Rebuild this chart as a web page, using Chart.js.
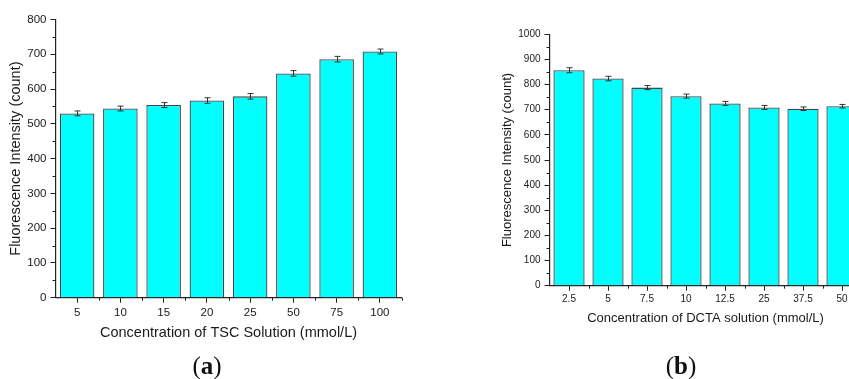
<!DOCTYPE html>
<html>
<head>
<meta charset="utf-8">
<script src="https://cdn.jsdelivr.net/npm/chart.js@4.4.1/dist/chart.umd.min.js"></script>
<style>
  html, body { margin: 0; padding: 0; background: #fff; overflow: hidden; }
  #wrap { position: relative; width: 849px; height: 379px; overflow: hidden; }
  canvas { position: absolute; top: 0; }
  .cap { position: absolute; top: 352px; width: 60px; text-align: center;
         font-family: "Liberation Serif", "Times New Roman", serif; font-size: 25px;
         line-height: 28px; color: #111; }
  .cap b { font-weight: bold; }
</style>
</head>
<body>
<div id="wrap">
  <canvas id="chartA" width="430" height="379" style="left:0"></canvas>
  <canvas id="chartB" width="400" height="379" style="left:470px"></canvas>
  <div class="cap" style="left:177px">(<b>a</b>)</div>
  <div class="cap" style="left:651px">(<b>b</b>)</div>
</div>
<script>
// (a) TSC concentration series
const tscLabels = ['5', '10', '15', '20', '25', '50', '75', '100'];
const tscValues = [530, 544, 554, 567, 579, 645, 686, 708];
const tscErrors = [7, 7, 7, 8, 8, 8, 8, 7];

// (b) DCTA concentration series
const dctaLabels = ['2.5', '5', '7.5', '10', '12.5', '25', '37.5', '50'];
const dctaValues = [857, 824, 788, 754, 725, 709, 704, 714];
const dctaErrors = [10, 9, 8, 8, 8, 8, 7, 7];

const yTitle = 'Fluorescence Intensity (count)';
const axisColor = '#222';

Chart.defaults.font.family = '"Liberation Sans", Arial, sans-serif';
Chart.defaults.color = '#1a1a1a';

// whiskers drawn from value +/- error on the y scale
const errorBars = {
    id: 'errorBars',
    afterDatasetsDraw(chart, args, opts) {
        const { ctx, scales: { y } } = chart;
        const meta = chart.getDatasetMeta(0);
        const data = chart.data.datasets[0].data;
        ctx.save();
        ctx.strokeStyle = '#333';
        ctx.lineWidth = 1;
        meta.data.forEach((bar, i) => {
            const hi = y.getPixelForValue(data[i] + opts.errors[i]);
            const lo = y.getPixelForValue(data[i] - opts.errors[i]);
            const cx = Math.round(bar.x) + 0.5;
            ctx.beginPath();
            ctx.moveTo(cx, hi); ctx.lineTo(cx, lo);
            ctx.moveTo(cx - 3, hi); ctx.lineTo(cx + 3, hi);
            ctx.moveTo(cx - 3, lo); ctx.lineTo(cx + 3, lo);
            ctx.stroke();
        });
        ctx.restore();
    }
};

// short minor ticks: halfway between y steps, and on category boundaries
const minorTicks = {
    id: 'minorTicks',
    afterDraw(chart, args, opts) {
        const { ctx, scales: { x, y } } = chart;
        ctx.save();
        ctx.strokeStyle = axisColor;
        ctx.lineWidth = 1;
        ctx.beginPath();
        for (let v = opts.step / 2; v < y.max; v += opts.step) {
            const py = Math.round(y.getPixelForValue(v)) + 0.5;
            ctx.moveTo(x.left, py); ctx.lineTo(x.left - 3, py);
        }
        const n = chart.data.labels.length;
        const w = (x.right - x.left) / n;
        for (let i = 1; i <= n; i++) {
            const px = Math.round(x.left + i * w) + 0.5;
            ctx.moveTo(px, y.bottom); ctx.lineTo(px, y.bottom + 3);
        }
        ctx.stroke();
        ctx.restore();
    }
};

function makeChart(id, labels, values, errors, xTitle, g) {
    return new Chart(document.getElementById(id), {
        type: 'bar',
        data: {
            labels: labels,
            datasets: [{
                data: values,
                backgroundColor: '#00ffff',
                borderColor: '#454545',
                borderWidth: 1.3,
                barPercentage: 0.8,
                categoryPercentage: 1.0
            }]
        },
        plugins: [errorBars, minorTicks],
        options: {
            responsive: false,
            animation: false,
            devicePixelRatio: 1,
            layout: { padding: { top: g.top, right: g.right, left: 0, bottom: 0 } },
            plugins: {
                legend: { display: false },
                tooltip: { enabled: false },
                errorBars: { errors: errors },
                minorTicks: { step: g.step }
            },
            scales: {
                x: {
                    offset: true,
                    grid: { offset: false, drawOnChartArea: false, tickLength: 5, color: axisColor },
                    border: { color: axisColor, width: 1.2 },
                    ticks: { font: { size: g.tick }, padding: 3, maxRotation: 0 },
                    title: {
                        display: true, text: xTitle,
                        font: { size: g.title },
                        padding: { top: 0, bottom: g.xTitlePad }
                    },
                    afterFit: s => { s.height = g.xHeight; }
                },
                y: {
                    min: 0, max: g.max,
                    grid: { drawOnChartArea: false, tickLength: 5, color: axisColor },
                    border: { color: axisColor, width: 1.2 },
                    ticks: {
                        stepSize: g.step, font: { size: g.tick }, padding: 4,
                        callback: v => String(v)
                    },
                    title: {
                        display: true, text: yTitle,
                        font: { size: g.title },
                        padding: { top: g.yTitlePad, bottom: 0 }
                    },
                    afterFit: s => { s.width = g.yWidth; }
                }
            }
        }
    });
}

makeChart('chartA', tscLabels, tscValues, tscErrors, 'Concentration of TSC Solution (mmol/L)', {
    top: 19.5, right: 28.5, max: 800, step: 100, tick: 11.5, title: 14.5,
    yWidth: 55.5, xHeight: 81.3, yTitlePad: 7.3, xTitlePad: 37.3
});

makeChart('chartB', dctaLabels, dctaValues, dctaErrors, 'Concentration of DCTA solution (mmol/L)', {
    top: 34.3, right: 8.5, max: 1000, step: 100, tick: 10, title: 13,
    yWidth: 79.5, xHeight: 93.3, yTitlePad: 29.9, xTitlePad: 53.2
});
</script>
</body>
</html>
